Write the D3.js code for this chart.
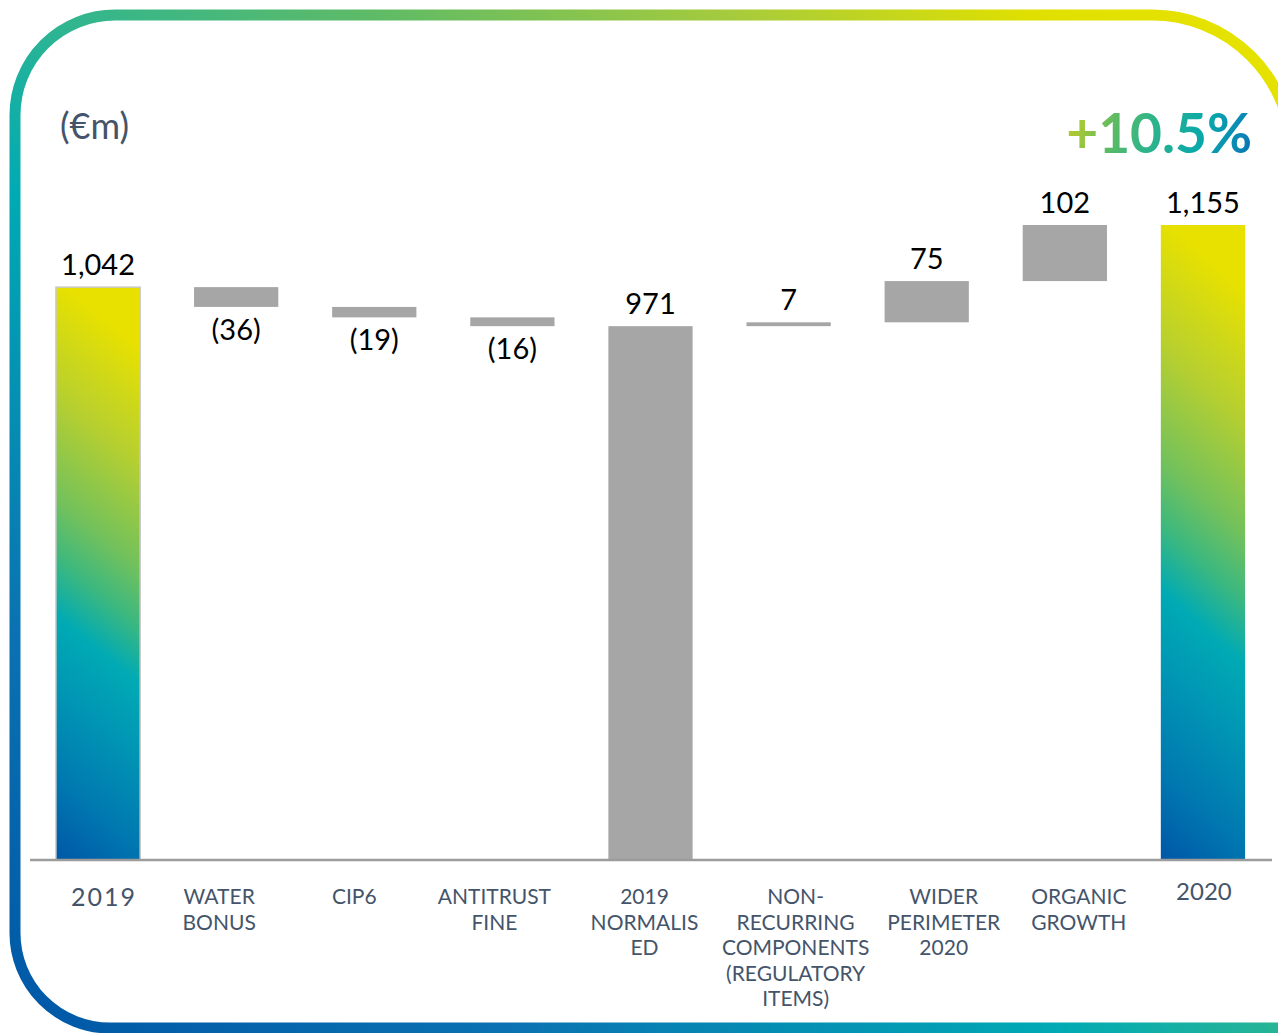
<!DOCTYPE html>
<html>
<head>
<meta charset="utf-8">
<script src="https://cdn.jsdelivr.net/npm/d3@7"></script>
<style>
  html, body { margin: 0; padding: 0; background: #ffffff; }
  svg { display: block; }
</style>
</head>
<body>
<svg id="chart" width="1278" height="1033"></svg>
<script>
// ---- data ----
const categories = ["2019", "WATER\nBONUS", "CIP6", "ANTITRUST\nFINE", "2019\nNORMALIS\nED",
  "NON-\nRECURRING\nCOMPONENTS\n(REGULATORY\nITEMS)", "WIDER\nPERIMETER\n2020", "ORGANIC\nGROWTH", "2020"];
const values = [1042, -36, -19, -16, 971, 7, 75, 102, 1155];
const barKinds = ["total", "delta", "delta", "delta", "subtotal", "delta", "delta", "delta", "total"];
const valueLabels = ["1,042", "(36)", "(19)", "(16)", "971", "7", "75", "102", "1,155"];
const unitLabel = "(€m)";
const growthLabel = "+10.5%";

// ---- layout (not data) ----
const W = 1278, H = 1033;
const baseY = 860;
const labelDx = [5, -17, -20, -18, -6, 7, 17, 14, 1];

const svg = d3.select("#chart");
const defs = svg.append("defs");

// border gradient
const bg = defs.append("linearGradient").attr("id", "borderGrad")
  .attr("gradientUnits", "userSpaceOnUse")
  .attr("x1", 15).attr("y1", 1028).attr("x2", 981).attr("y2", -184);
[[0, "#0057a6"], [0.2, "#0a72b2"], [0.42, "#00aab4"], [0.52, "#2db592"],
 [0.66, "#60bb65"], [0.8, "#a6cb3c"], [0.92, "#e0e000"], [1, "#e6e200"]]
  .forEach(([o, c]) => bg.append("stop").attr("offset", o).attr("stop-color", c));

// bar gradient
const barG = defs.append("linearGradient").attr("id", "barGrad")
  .attr("x1", 0).attr("y1", 1).attr("x2", 0.12).attr("y2", 0);
[[0, "#0057a7"], [0.14, "#0078b0"], [0.3, "#0096b4"], [0.42, "#00aab4"],
 [0.52, "#3cb87f"], [0.62, "#72c15c"], [0.8, "#b6cf30"], [1, "#e8e100"]]
  .forEach(([o, c]) => barG.append("stop").attr("offset", o).attr("stop-color", c));

// text gradient
const tg = defs.append("linearGradient").attr("id", "textGrad")
  .attr("gradientUnits", "userSpaceOnUse")
  .attr("x1", 1066).attr("y1", 105).attr("x2", 1252).attr("y2", 160);
[[0, "#b4cc28"], [0.1, "#a6c836"], [0.26, "#5ebb62"], [0.45, "#2fb48a"],
 [0.72, "#08a8aa"], [0.9, "#0a88b5"], [1, "#0a70b0"]]
  .forEach(([o, c]) => tg.append("stop").attr("offset", o).attr("stop-color", c));

// ---- border (rounded frame) ----
function framePath(l, t, r, b, tl, tr, br, bl) {
  return `M${l + tl},${t} L${r - tr},${t} A${tr},${tr} 0 0 1 ${r},${t + tr} ` +
    `L${r},${b - br} A${br},${br} 0 0 1 ${r - br},${b} L${l + bl},${b} ` +
    `A${bl},${bl} 0 0 1 ${l},${b - bl} L${l},${t + tl} A${tl},${tl} 0 0 1 ${l + tl},${t} Z`;
}
svg.append("path")
  .attr("d", framePath(15, 15, 1292, 1028, 100, 140, 10, 95))
  .attr("fill", "none").attr("stroke", "url(#borderGrad)").attr("stroke-width", 11);

// ---- scales ----
const x = d3.scaleBand().domain(categories).range([29, 1272])
  .paddingInner(0.39).paddingOuter(0.195);
const y = d3.scaleLinear().domain([0, 1155]).range([baseY, 225]);

// waterfall computation
let running = 0;
const bars = categories.map((c, i) => {
  let y0, y1;
  if (barKinds[i] === "delta") { y0 = running; y1 = running + values[i]; running = y1; }
  else { y0 = 0; y1 = values[i]; running = values[i]; }
  return { cat: c, v: values[i], kind: barKinds[i], lo: Math.min(y0, y1), hi: Math.max(y0, y1), label: valueLabels[i], i };
});

// bars
svg.append("g").selectAll("rect").data(bars).join("rect")
  .attr("x", d => x(d.cat))
  .attr("width", x.bandwidth())
  .attr("y", d => y(d.hi))
  .attr("height", d => y(d.lo) - y(d.hi))
  .attr("fill", d => d.kind === "total" ? "url(#barGrad)" : "#a6a6a6")
  .attr("stroke", d => d.i === 0 ? "#c9c9c9" : "none")
  .attr("stroke-width", 1.5);

// baseline / axis
const axis = d3.axisBottom(x).tickSize(0).tickFormat("");
const axG = svg.append("g").attr("transform", `translate(0,${baseY})`).call(axis);
axG.select(".domain").attr("stroke", "#9c9c9c").attr("stroke-width", 2.5)
  .attr("d", `M30,0H1272`);

// category labels
const catG = svg.append("g").attr("font-family", "Lato, 'Open Sans', sans-serif").attr("fill", "#44546a");
bars.forEach((d, i) => {
  const lines = d.cat.split("\n");
  const big = (i === 0 || i === categories.length - 1);
  const t = catG.append("text")
    .attr("x", x(d.cat) + x.bandwidth() / 2 + labelDx[i])
    .attr("y", i === 0 ? 906 : (big ? 900 : 904))
    .attr("text-anchor", "middle")
    .attr("font-size", big ? (i === 0 ? 25 : 24) : 21)
    .attr("letter-spacing", i === 0 ? 2 : 0);
  lines.forEach((ln, k) => {
    t.append("tspan").attr("x", x(d.cat) + x.bandwidth() / 2 + labelDx[i] + (i === 0 ? 1 : 0))
      .attr("dy", k === 0 ? 0 : 25.5).text(ln);
  });
});

// value labels
svg.append("g").selectAll("text").data(bars).join("text")
  .attr("x", d => x(d.cat) + x.bandwidth() / 2)
  .attr("y", d => d.v < 0 ? y(d.lo) + 33 : y(d.hi) - 12)
  .attr("text-anchor", "middle")
  .attr("font-family", "Lato, 'Open Sans', sans-serif")
  .attr("font-size", 29)
  .attr("fill", "#000")
  .text(d => d.label);

// unit label
svg.append("text").attr("x", 60).attr("y", 139)
  .attr("font-family", "Lato, 'Open Sans', sans-serif").attr("font-size", 36)
  .attr("fill", "#44546a").text(unitLabel);

// growth label
svg.append("text").attr("x", 1252).attr("y", 153).attr("text-anchor", "end")
  .attr("font-family", "Lato, 'Open Sans', sans-serif").attr("font-weight", 700)
  .attr("font-size", 55).attr("fill", "url(#textGrad)").text(growthLabel);
</script>
</body>
</html>
